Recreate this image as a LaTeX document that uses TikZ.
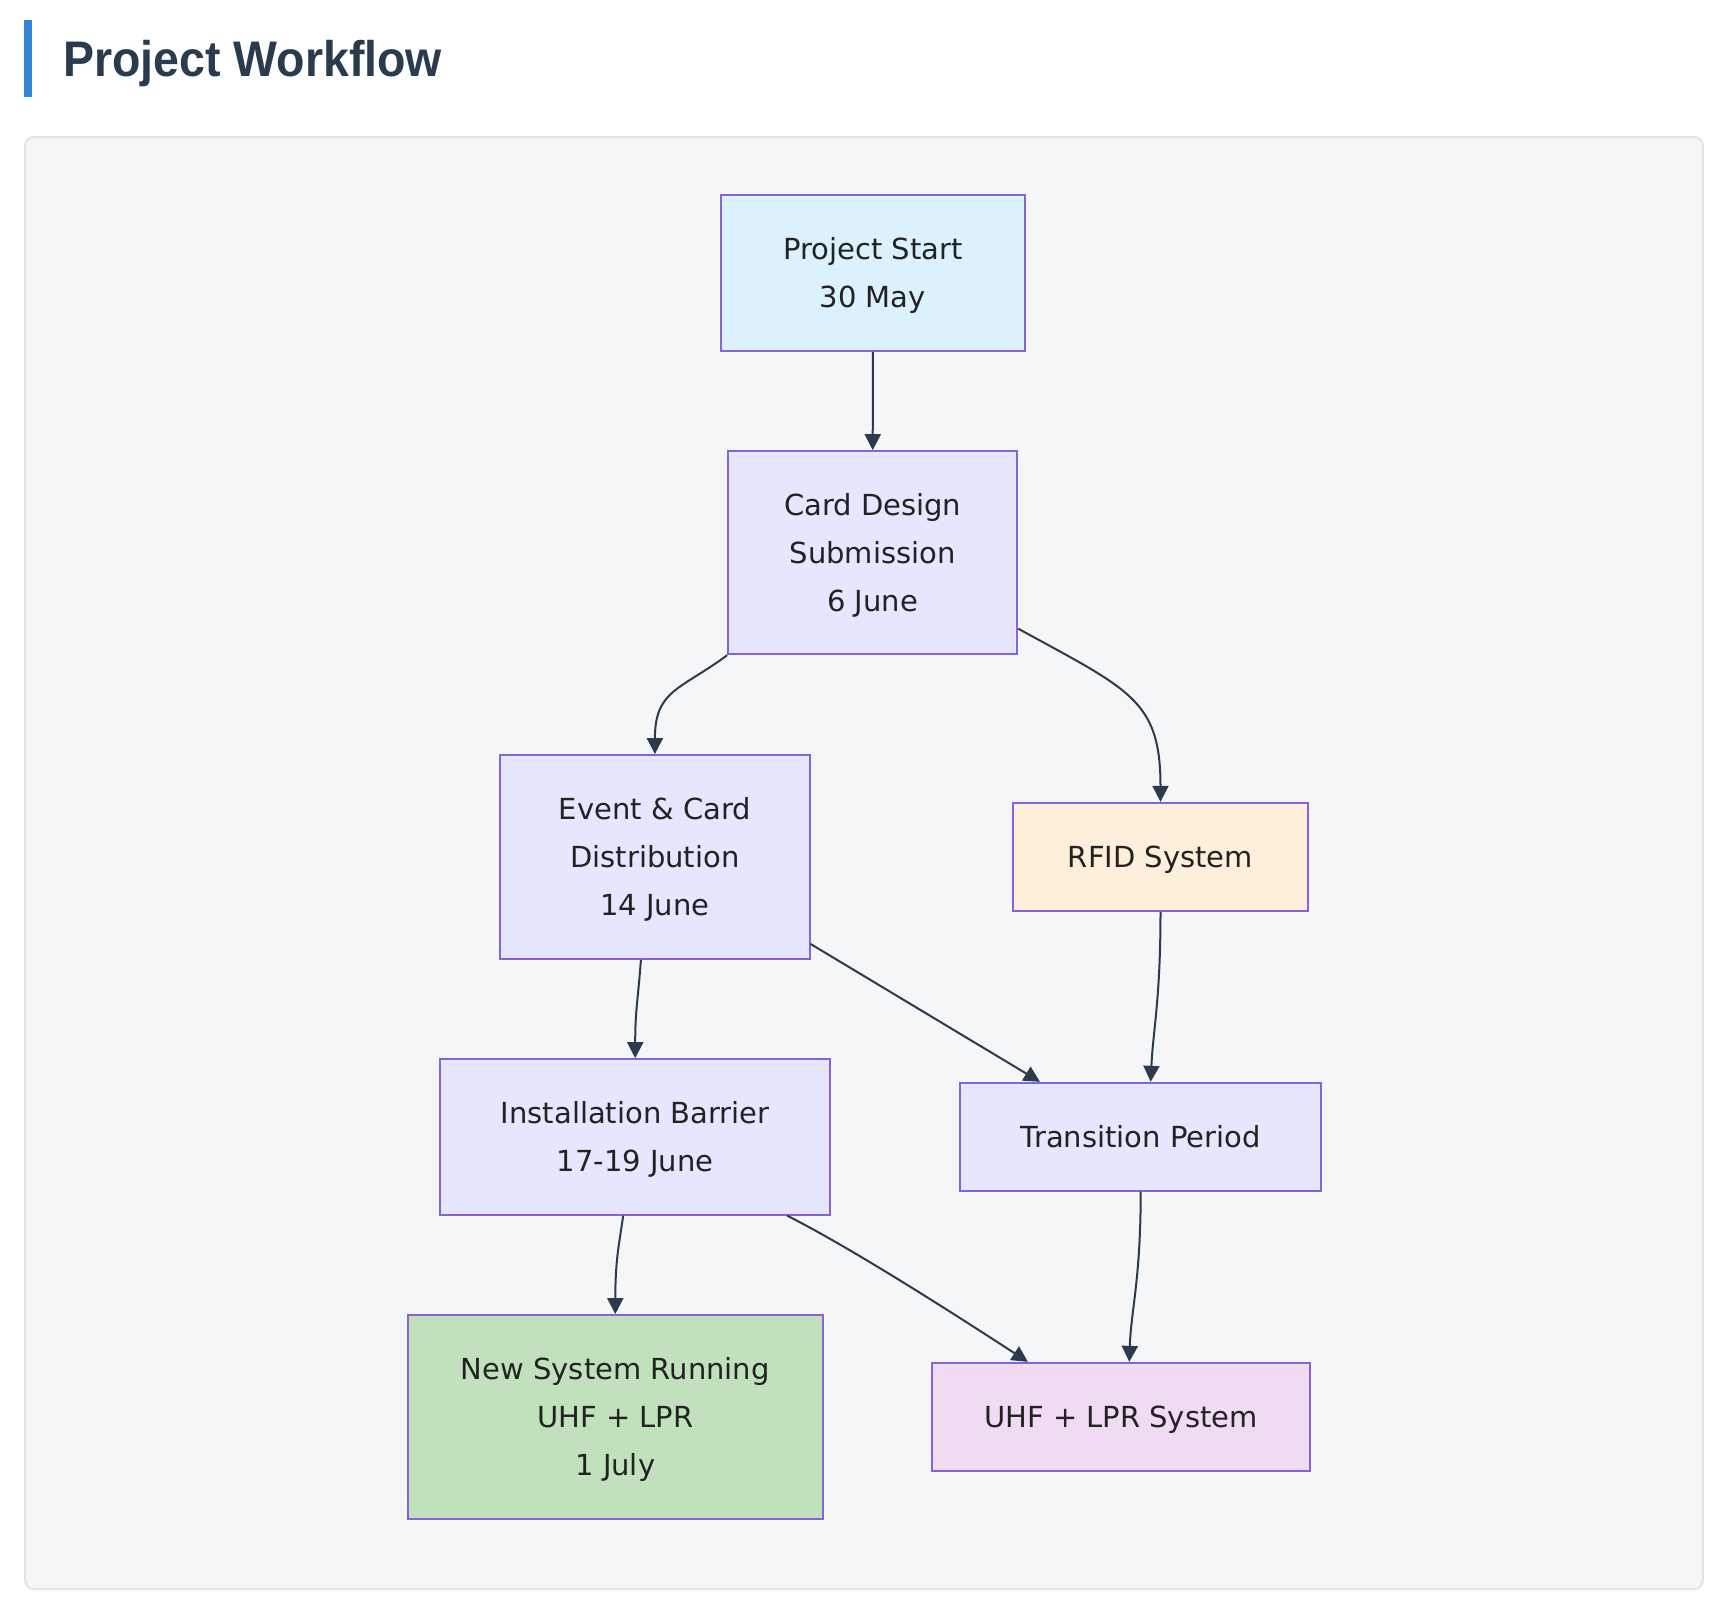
\documentclass[tikz,border=0pt]{standalone}
\usepackage{fontspec}
\setmainfont{DejaVu Sans}
\newfontfamily\titlefont{Liberation Sans}
\usetikzlibrary{arrows.meta}
\definecolor{cBar}{HTML}{3185D5}
\definecolor{cTitle}{HTML}{2A3B4E}
\definecolor{cPanel}{HTML}{F5F6F8}
\definecolor{cPanelBorder}{HTML}{E1E4E8}
\definecolor{cBorder}{HTML}{8763D9}
\definecolor{cEdge}{HTML}{2B3A4C}
\definecolor{cText}{HTML}{222222}
\definecolor{cStart}{HTML}{DBF1FD}
\definecolor{cStep}{HTML}{E6E6FE}
\definecolor{cRfid}{HTML}{FEEFDB}
\definecolor{cDone}{HTML}{C1E1BD}
\definecolor{cUhf}{HTML}{EFDCF2}
\newcommand\lnstrut{\rule[-13.3pt]{0pt}{48pt}}
\begin{document}
\begin{tikzpicture}[x=1pt,y=-1pt,
  box/.style={draw=cBorder, line width=1.8pt, inner sep=0pt, align=center,
    font=\fontsize{29}{48}\selectfont, text=cText},
  link/.style={draw=cEdge, line width=2pt, -{Triangle[length=16pt,width=16pt]}}]
\fill[white] (0,0) rectangle (1722,1608);
\useasboundingbox (0,0) rectangle (1722,1608);
% title
\fill[cBar] (23.5,20) rectangle (31.5,97);
\node[anchor=base west, inner sep=0pt, text=cTitle,
  font=\titlefont\bfseries\fontsize{50}{50}\selectfont] (title) at (63,77)
  {\scalebox{0.93}[1]{Project Workflow}};
% panel
\draw[fill=cPanel, draw=cPanelBorder, line width=2pt, rounded corners=9pt]
  (25,137) rectangle (1703,1589);
% nodes
\node[box, fill=cStart, minimum width=304.3pt, minimum height=156pt] (start) at (872.9,273)
  {\lnstrut Project Start\\\lnstrut 30 May};
\node[box, fill=cStep, minimum width=289.3pt, minimum height=203.3pt] (card) at (872.7,552.7)
  {\lnstrut Card Design\\\lnstrut Submission\\\lnstrut 6 June};
\node[box, fill=cStep, minimum width=309.7pt, minimum height=204pt] (event) at (654.9,857)
  {\lnstrut Event \& Card\\\lnstrut Distribution\\\lnstrut 14 June};
\node[box, fill=cRfid, minimum width=295pt, minimum height=108.3pt] (rfid) at (1160.5,856.9)
  {\lnstrut RFID System};
\node[box, fill=cStep, minimum width=389.7pt, minimum height=155.7pt] (install) at (635.2,1136.9)
  {\lnstrut Installation Barrier\\\lnstrut 17-19 June};
\node[box, fill=cStep, minimum width=361.3pt, minimum height=108pt] (trans) at (1140.7,1136.7)
  {\lnstrut Transition Period};
\node[box, fill=cDone, minimum width=415.3pt, minimum height=204pt] (newsys) at (615.3,1417)
  {\lnstrut New System Running\\\lnstrut UHF + LPR\\\lnstrut 1 July};
\node[box, fill=cUhf, minimum width=378.3pt, minimum height=108.3pt] (uhf) at (1120.9,1416.9)
  {\lnstrut UHF + LPR System};
% connectors
\draw[link] (start.south) -- (card.north);
\draw[link] (card.south west) .. controls (680,690) and (654.9,690) .. (event.north);
\draw[link] ([yshift=-76pt]card.east) .. controls (1130,690) and (1160.5,700) .. (rfid.north);
\draw[link] ([xshift=-14pt]event.south) .. controls (638,1000) and (635.2,1010) .. (install.north);
\draw[link] ([yshift=-87pt]event.east) -- ([xshift=-100.7pt]trans.north);
\draw[link] (rfid.south) .. controls (1160.5,1000) and (1153,1030) .. ([xshift=10pt]trans.north);
\draw[link] ([xshift=-12pt]install.south) .. controls (619,1245) and (615.3,1260) .. (newsys.north);
\draw[link] ([xshift=152pt]install.south) .. controls (857,1251) and (968,1323) .. ([xshift=-93pt]uhf.north);
\draw[link] (trans.south) .. controls (1140.7,1280) and (1131,1310) .. ([xshift=8.4pt]uhf.north);
\end{tikzpicture}
\end{document}
